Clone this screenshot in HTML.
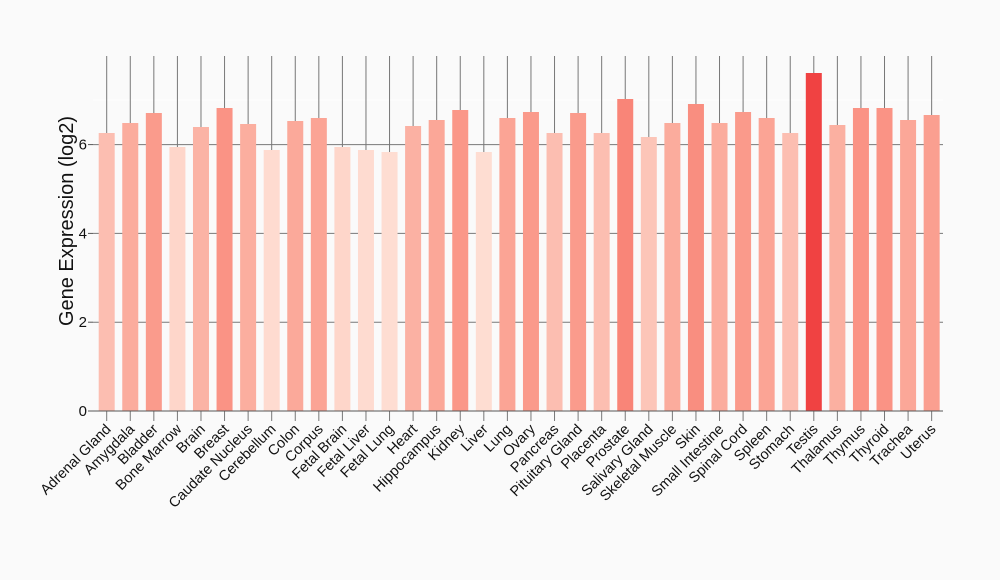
<!DOCTYPE html>
<html><head><style>body{margin:0;background:#fafafa}svg{display:block}</style></head>
<body>
<svg id="s" width="1000" height="580" xmlns="http://www.w3.org/2000/svg" font-family="Liberation Sans, sans-serif">
<rect width="1000" height="580" fill="#fafafa"/>
<g id="g"></g>
<text transform="translate(73,221) rotate(-90)" text-anchor="middle" font-size="20" fill="#111">Gene Expression (log2)</text>
</svg>
<script>
const names=["Adrenal Gland","Amygdala","Bladder","Bone Marrow","Brain","Breast","Caudate Nucleus","Cerebellum","Colon","Corpus","Fetal Brain","Fetal Liver","Fetal Lung","Heart","Hippocampus","Kidney","Liver","Lung","Ovary","Pancreas","Pituitary Gland","Placenta","Prostate","Salivary Gland","Skeletal Muscle","Skin","Small Intestine","Spinal Cord","Spleen","Stomach","Testis","Thalamus","Thymus","Thyroid","Trachea","Uterus"];
const tops=[133,123,113,147,127,108,124,150,121,118,147,150,152,126,120,110,152,118,112,133,113,133,99,137,123,104,123,112,118,133,73,125,108,108,120,115];
const y0=411,u=44.4;
const stops=[[5.85,[254,221,210]],[6.25,[252,191,178]],[6.5,[251,171,156]],[6.8,[250,149,134]],[7.0,[249,136,123]],[7.6,[240,66,66]]];
function col(v){if(v<=stops[0][0])return stops[0][1];for(let i=1;i<stops.length;i++){if(v<=stops[i][0]){const a=stops[i-1],b=stops[i],t=(v-a[0])/(b[0]-a[0]);return a[1].map((c,k)=>Math.round(c+(b[1][k]-c)*t));}}return stops[stops.length-1][1];}
let h='';
h+=`<line x1="93" x2="943" y1="100" y2="100" stroke="#fff" stroke-width="1"/>`;
for(const v of [2,4,6]){const y=y0-v*u;h+=`<line x1="93" x2="943" y1="${y}" y2="${y}" stroke="#777" stroke-width="1"/>`;}
for(const v of [0,2,4,6]){const y=y0-v*u;h+=`<line x1="88" x2="93" y1="${y}" y2="${y}" stroke="#555"/><text x="87" y="${y+5}" text-anchor="end" font-size="15" fill="#111">${v}</text>`;}
names.forEach((n,i)=>{const x=106.7+i*23.57;h+=`<line x1="${x}" x2="${x}" y1="56" y2="421" stroke="#777"/>`;});
names.forEach((n,i)=>{const x=106.7+i*23.57,t=tops[i],v=(y0-t)/u,c=col(v);h+=`<rect x="${x-8}" y="${t}" width="16" height="${y0-t}" fill="rgb(${c})"/>`;
h+=`<text transform="translate(${x+5},430) rotate(-45)" text-anchor="end" font-size="14.5" fill="#111">${n}</text>`;});
h+=`<line x1="90" x2="943" y1="411" y2="411" stroke="#555"/>`;
document.getElementById('g').innerHTML=h;
</script>
</body></html>
